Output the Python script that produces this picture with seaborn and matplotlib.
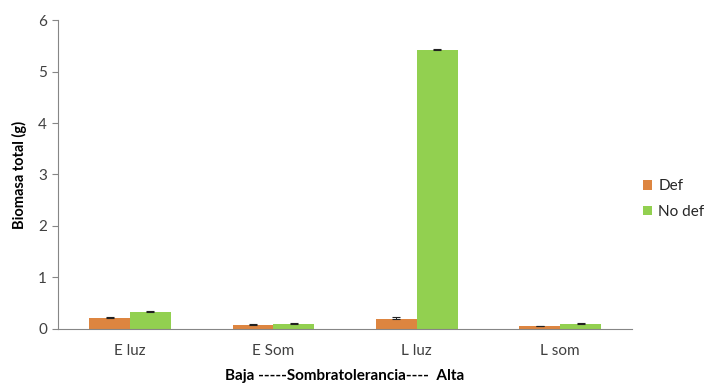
import pandas as pd
import matplotlib.pyplot as plt
import seaborn as sns

# datos
categorias = ['E luz', 'E Som', 'L luz', 'L som']
def_vals = [0.21, 0.07, 0.20, 0.05]
nodef_vals = [0.32, 0.09, 5.42, 0.10]
def_err = [0.03, 0.025, 0.025, 0.015]
nodef_err = [0.035, 0.02, 0.02, 0.02]

df = pd.DataFrame({
    'cat': categorias * 2,
    'grupo': ['Def'] * 4 + ['No def'] * 4,
    'biomasa': def_vals + nodef_vals,
    'err': def_err + nodef_err,
})

sns.set_style('white')
plt.rcParams['font.family'] = ['Lato', 'DejaVu Sans']

fig = plt.figure(figsize=(7.19, 3.86), dpi=100)
ax = fig.add_axes([0.081, 0.148, 0.798, 0.800])

colores = {'Def': '#DD8540', 'No def': '#92D050'}
sns.barplot(data=df, x='cat', y='biomasa', hue='grupo', palette=colores,
            errorbar=None, width=0.57, gap=0, ax=ax, saturation=1, linewidth=0)

# barras de error (solo hacia arriba, como en Excel)
for cont, g in zip(ax.containers, ['Def', 'No def']):
    sub = df[df['grupo'] == g]
    xs = [p.get_x() + p.get_width() / 2 for p in cont]
    ax.errorbar(xs, sub['biomasa'].values,
                yerr=[[0] * len(xs), sub['err'].values],
                fmt='none', ecolor='#222222', elinewidth=0.7, capsize=3, capthick=0.8)

ax.set_ylim(0, 6)
ax.set_xlim(-0.5, 3.5)
ax.set_yticks(range(0, 7))
ax.set_ylabel('Biomasa total (g)', fontsize=10.5, fontweight='bold', color='black', labelpad=8)
ax.set_xlabel('Baja -----Sombratolerancia----  Alta', fontsize=11,
              fontweight='bold', color='black', labelpad=8)
ax.tick_params(axis='y', length=4, color='#868686', labelsize=11, labelcolor='#404040', left=True, pad=4)
ax.tick_params(axis='x', length=0, labelsize=11, labelcolor='#404040', pad=11)

for s in ['top', 'right']:
    ax.spines[s].set_visible(False)
for s in ['left', 'bottom']:
    ax.spines[s].set_color('#868686')
    ax.spines[s].set_linewidth(0.8)

ax.legend(loc='center left', bbox_to_anchor=(0.995, 0.42), frameon=False,
          fontsize=11, handlelength=0.6, handleheight=0.6, labelspacing=0.75,
          handletextpad=0.4)

fig.savefig('out.png', dpi=100)
